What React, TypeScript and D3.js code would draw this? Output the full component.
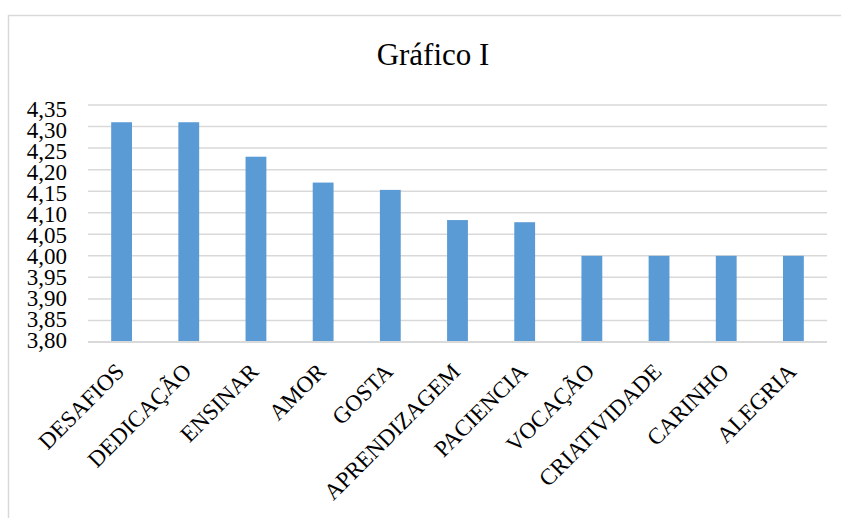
import React from "react";
import * as d3 from "d3";

const categories = [
  "DESAFIOS",
  "DEDICAÇÃO",
  "ENSINAR",
  "AMOR",
  "GOSTA",
  "APRENDIZAGEM",
  "PACIENCIA",
  "VOCAÇÃO",
  "CRIATIVIDADE",
  "CARINHO",
  "ALEGRIA",
];
const values = [4.31, 4.31, 4.23, 4.17, 4.153, 4.083, 4.078, 4.0, 4.0, 4.0, 4.0];
const yTicks = [3.8, 3.85, 3.9, 3.95, 4.0, 4.05, 4.1, 4.15, 4.2, 4.25, 4.3, 4.35];
const title = "Gráfico I";

const W = 841;
const H = 518;
const plot = { left: 88, right: 827, top: 105, bottom: 342 };
const FONT = "'Liberation Serif', 'Times New Roman', serif";

export default function App() {
  const x = d3
    .scaleBand<string>()
    .domain(categories)
    .range([plot.left, plot.right])
    .paddingInner(0.69)
    .paddingOuter(0.345);
  const y = d3.scaleLinear().domain([3.8, 4.35]).range([plot.bottom, plot.top]);
  const fmt = (v: number) => d3.format(".2f")(v).replace(".", ",");
  const labelOffset = (v: number) => 4 - ((4.35 - v) / 0.55) * 6;

  return (
    <svg
      width={W}
      height={H}
      style={{ position: "absolute", left: 0, top: 0, background: "#fff" }}
      fontFamily={FONT}
    >
      <rect x={8.5} y={15.5} width={W + 20} height={H + 20} fill="#fff" stroke="#d9d9d9" strokeWidth={1.5} />
      <text x={433} y={65} textAnchor="middle" fontSize={31} fill="#000">
        {title}
      </text>
      {yTicks.map((t) => (
        <g key={t}>
          <line
            x1={plot.left}
            x2={plot.right}
            y1={y(t)}
            y2={y(t)}
            stroke="#d9d9d9"
            strokeWidth={t === 3.8 ? 2 : 1.5}
          />
          <text
            x={67}
            y={y(t) + labelOffset(t)}
            textAnchor="end"
            dominantBaseline="central"
            fontSize={23}
            fill="#000"
          >
            {fmt(t)}
          </text>
        </g>
      ))}
      {categories.map((c, i) => (
        <rect
          key={c}
          x={x(c)}
          y={y(values[i])}
          width={x.bandwidth()}
          height={y(3.8) - y(values[i]) - 1}
          fill="#5b9bd5"
        />
      ))}
      {categories.map((c) => {
        const cx = (x(c) as number) + x.bandwidth() / 2 + 4;
        const cy = 373;
        return (
          <text
            key={c}
            x={cx}
            y={cy}
            textAnchor="end"
            fontSize={23}
            fill="#000"
            transform={`rotate(-45 ${cx} ${cy})`}
          >
            {c}
          </text>
        );
      })}
    </svg>
  );
}
